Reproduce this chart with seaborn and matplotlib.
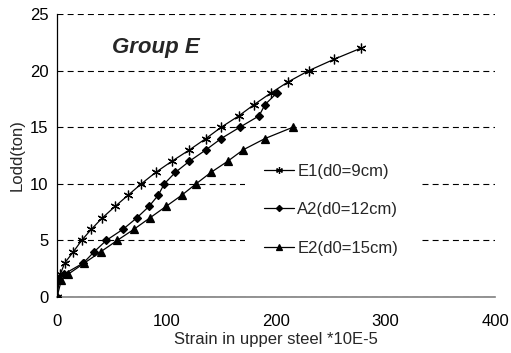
import matplotlib
matplotlib.use("Agg")
import matplotlib.pyplot as plt
import seaborn as sns
import pandas as pd
from matplotlib.patches import Rectangle

# ---- data ----
e1_x = [0, 1, 3, 7, 15, 22.5, 31.5, 41.5, 53, 65, 77, 90, 105, 121, 136, 150, 166, 180, 195, 211, 230, 253, 278]
e1_y = [0, 1.5, 2, 3, 4, 5, 6, 7, 8, 9, 10, 11, 12, 13, 14, 15, 16, 17, 18, 19, 20, 21, 22]

a2_x = [0, 2, 6, 24, 34, 45, 60.5, 73, 84, 92.5, 98, 108, 121, 136, 150, 167, 184.5, 190, 200.5]
a2_y = [0, 1.5, 2, 3, 4, 5, 6, 7, 8, 9, 10, 11, 12, 13, 14, 15, 16, 17, 18]

e2_x = [0, 4, 10, 25, 40, 55, 70.5, 85, 99.5, 114, 127, 140.5, 156, 170, 190, 215.5]
e2_y = [0, 1.5, 2, 3, 4, 5, 6, 7, 8, 9, 10, 11, 12, 13, 14, 15]

labels = ["E1(d0=9cm)", "A2(d0=12cm)", "E2(d0=15cm)"]
x_ticks = [0, 100, 200, 300, 400]
y_ticks = [0, 5, 10, 15, 20, 25]
title_text = "Group E"
x_label = "Strain in upper steel *10E-5"
y_label = "Lodd(ton)"

# ---- style ----
sns.set_theme(style="white")
plt.rcParams["font.family"] = ["Liberation Sans", "DejaVu Sans"]
plt.rcParams["lines.scale_dashes"] = False

W, H, DPI = 511, 353, 100
fig = plt.figure(figsize=(W / DPI, H / DPI), dpi=DPI)
ax = fig.add_axes([57 / W, 1 - 297 / H, (495 - 57) / W, (297 - 14) / H])

series = [(e1_x, e1_y, (6, 2, 0), 7), (a2_x, a2_y, "D", 4.5), (e2_x, e2_y, "^", 6)]
for (xs, ys, mk, ms), lab in zip(series, labels):
    df = pd.DataFrame({"x": xs, "y": ys})
    sns.lineplot(data=df, x="x", y="y", ax=ax, color="black", linewidth=0.9,
                 marker=mk, markersize=ms, markeredgecolor="black",
                 markeredgewidth=0.9, markerfacecolor="black",
                 estimator=None, sort=False, label=lab, zorder=3)

ax.set_xlim(0, 400)
ax.set_ylim(0, 25)
ax.set_xticks(x_ticks)
ax.set_yticks(y_ticks)

# gridlines
ax.set_axisbelow(True)
ax.yaxis.grid(True, color="black", linewidth=0.8, linestyle=(0, (4.3, 3.0)))
ax.xaxis.grid(False)

# white legend area covering the gridlines
ax.add_patch(Rectangle(((245 - 57) / 438, (297 - 282) / 283), (422 - 245) / 438, (282 - 148) / 283,
                       transform=ax.transAxes, facecolor="white", edgecolor="none", zorder=1))

for s in ["top", "right"]:
    ax.spines[s].set_visible(False)
ax.spines["left"].set_color("black")
ax.spines["left"].set_linewidth(0.9)
ax.spines["bottom"].set_color("#808080")
ax.spines["bottom"].set_linewidth(1.2)
ax.spines["bottom"].set_zorder(0.6)

ax.tick_params(axis="both", direction="out", length=3, width=0.8, labelsize=12, labelcolor="black")
ax.tick_params(axis="x", color="#808080", pad=9)
ax.tick_params(axis="y", color="black", pad=3)

ax.set_xlabel(x_label, fontsize=12, labelpad=2.5)
ax.set_ylabel(y_label, fontsize=12, labelpad=4)

ax.text((112 - 57) / 438, (297 - 47) / 283, title_text, transform=ax.transAxes,
        fontsize=16, fontweight="bold", fontstyle="italic", ha="left", va="center")

leg = ax.legend(loc="upper left", bbox_to_anchor=((264 - 57) / 438, (297 - 164) / 283),
                frameon=False, fontsize=12, handlelength=1.8, handletextpad=0.2,
                labelspacing=1.4, borderpad=0, borderaxespad=0, markerscale=0.7)

fig.savefig("out.png", dpi=DPI)
